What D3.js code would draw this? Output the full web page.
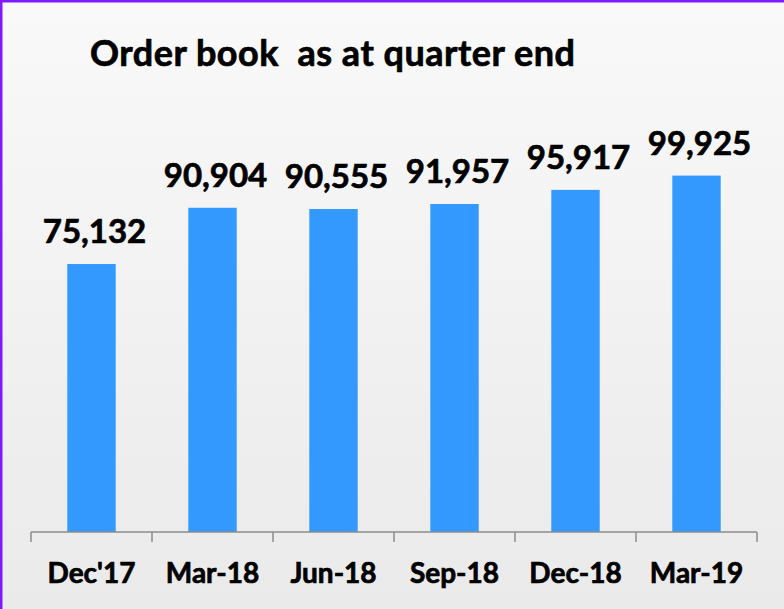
<!DOCTYPE html>
<html>
<head>
<meta charset="utf-8">
<script src="https://cdn.jsdelivr.net/npm/d3@7"></script>
<style>
  html, body { margin: 0; padding: 0; }
  body { width: 784px; height: 609px; overflow: hidden; }
  svg { display: block; }
  text { paint-order: stroke; stroke: #000; stroke-width: 0.7px; }
</style>
</head>
<body>
<div id="chart"></div>
<script>
const categories = ["Dec'17", "Mar-18", "Jun-18", "Sep-18", "Dec-18", "Mar-19"];
const orderBook  = [75132, 90904, 90555, 91957, 95917, 99925];
const titleText  = "Order book  as at quarter end";

const W = 784, H = 609;
const fontFam = "Lato, 'Open Sans', sans-serif";

const svg = d3.select('#chart').append('svg')
  .attr('width', W).attr('height', H);

// background gradient
const defs = svg.append('defs');
const grad = defs.append('linearGradient')
  .attr('id', 'bg').attr('x1', 0).attr('y1', 0).attr('x2', 0).attr('y2', 1);
grad.append('stop').attr('offset', '0%').attr('stop-color', '#f9f9f9');
grad.append('stop').attr('offset', '100%').attr('stop-color', '#eaeaea');

svg.append('rect').attr('width', W).attr('height', H).attr('fill', 'url(#bg)');
// purple frame (left and top visible)
svg.append('rect').attr('x', 0).attr('y', 0).attr('width', W).attr('height', 2.5).attr('fill', '#7f1cff');
svg.append('rect').attr('x', 0).attr('y', 0).attr('width', 2.5).attr('height', H).attr('fill', '#7f1cff');

const x = d3.scaleBand()
  .domain(categories)
  .range([31, 757])
  .paddingInner(0.6)
  .paddingOuter(0.3);

const y = d3.scaleLinear()
  .domain([0, 120000])
  .range([532, 104]);

// title
const title = svg.append('text')
  .attr('x', 90).attr('y', 66)
  .attr('font-family', fontFam)
  .attr('font-weight', 700)
  .attr('font-size', 36)
  .attr('fill', '#000')
  .attr('xml:space', 'preserve')
  .style('white-space', 'pre')
  .text(titleText);
// stretch to the width the title takes in the original (~485px)
title.attr('textLength', 485).attr('lengthAdjust', 'spacing');

// bars
const data = categories.map((c, i) => ({ cat: c, val: orderBook[i] }));

svg.append('g').selectAll('rect.bar')
  .data(data)
  .join('rect')
  .attr('class', 'bar')
  .attr('x', d => x(d.cat))
  .attr('y', d => y(d.val))
  .attr('width', x.bandwidth())
  .attr('height', d => y(0) - y(d.val))
  .attr('fill', '#3399ff');

// value labels
svg.append('g').selectAll('text.val')
  .data(data)
  .join('text')
  .attr('class', 'val')
  .attr('x', d => x(d.cat) + x.bandwidth() / 2 + 3)
  .attr('y', d => y(d.val) - 21)
  .attr('text-anchor', 'middle')
  .attr('font-family', fontFam)
  .attr('font-weight', 700)
  .attr('font-size', 33)
  .attr('fill', '#000')
  .text(d => d3.format(',')(d.val));

// x axis line + ticks at band boundaries
const axisG = svg.append('g');
const step = x.step();
const x0 = x.range()[0];
axisG.append('line')
  .attr('x1', x0).attr('x2', x.range()[1])
  .attr('y1', y(0)).attr('y2', y(0))
  .attr('stroke', '#8c8c8c').attr('stroke-width', 1.5);
axisG.selectAll('line.tick')
  .data(d3.range(categories.length + 1))
  .join('line')
  .attr('class', 'tick')
  .attr('x1', i => x0 + i * step).attr('x2', i => x0 + i * step)
  .attr('y1', y(0)).attr('y2', y(0) + 10)
  .attr('stroke', '#8c8c8c').attr('stroke-width', 1.5);

axisG.selectAll('text.cat')
  .data(categories)
  .join('text')
  .attr('class', 'cat')
  .attr('x', d => x(d) + x.bandwidth() / 2)
  .attr('y', 583)
  .attr('text-anchor', 'middle')
  .attr('font-family', fontFam)
  .attr('font-weight', 700)
  .attr('font-size', 28)
  .attr('fill', '#000')
  .text(d => d);
</script>
</body>
</html>
